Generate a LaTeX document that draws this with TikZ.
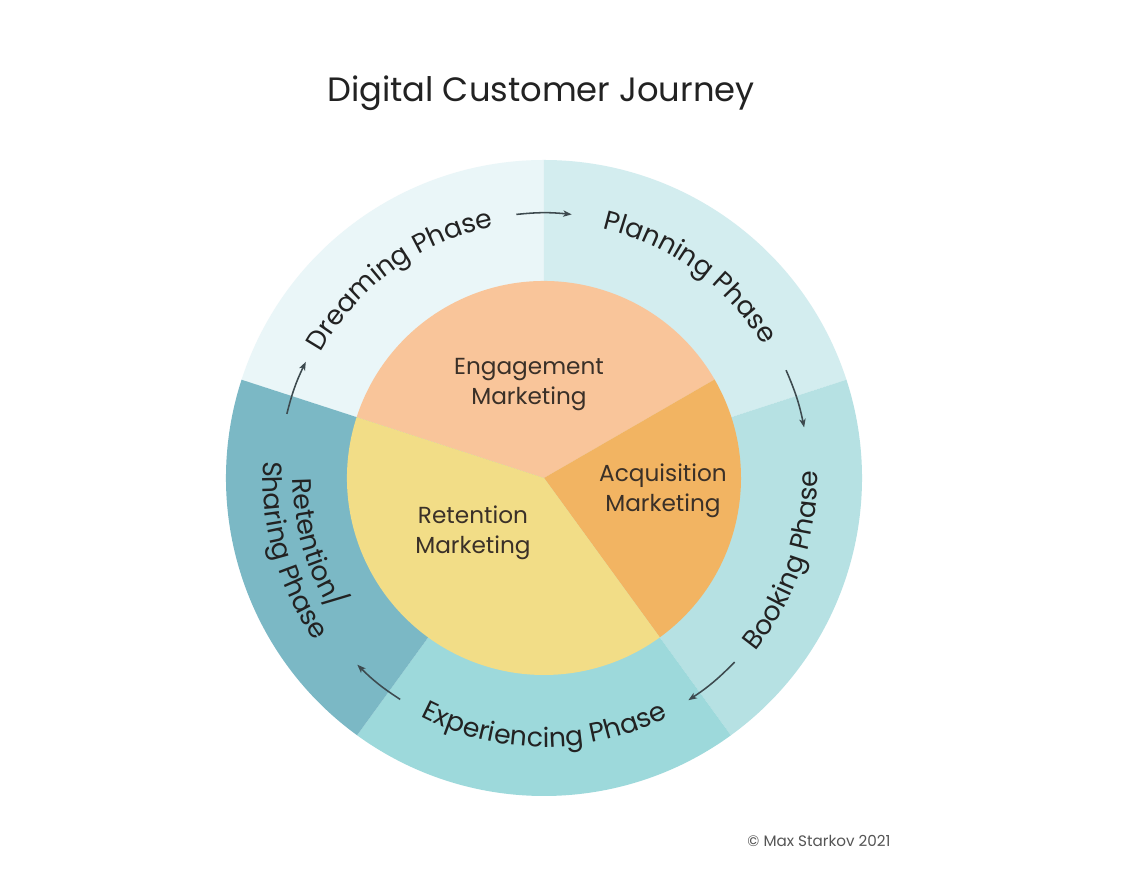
\documentclass[tikz,border=0pt]{standalone}
\usepackage{fontspec}
\setmainfont{Poppins}
\usepackage{tikz}
\usetikzlibrary{calc, positioning, decorations.text, arrows.meta}

\definecolor{dreamcol}{HTML}{EAF6F8}
\definecolor{plancol}{HTML}{D3EDEF}
\definecolor{bookcol}{HTML}{B6E1E3}
\definecolor{expcol}{HTML}{9DD9DB}
\definecolor{retcol}{HTML}{7BB8C5}
\definecolor{engcol}{HTML}{F9C59A}
\definecolor{acqcol}{HTML}{F2B462}
\definecolor{retmkcol}{HTML}{F2DD87}
\definecolor{textcol}{HTML}{222222}
\definecolor{lblcol}{HTML}{3A3028}
\definecolor{arrcol}{HTML}{3D4A4F}
\definecolor{copycol}{HTML}{555555}

\newcommand{\phasefont}{\fontsize{19}{23}\selectfont}

\begin{document}
\begin{tikzpicture}[x=0.025cm, y=0.025cm,
  phase/.style={decorate, decoration={text along path, text align=center, text color=textcol}},
  lbl/.style={align=center, text=lblcol, font=\fontsize{16.5}{21.3}\selectfont},
  arr/.style={-{Stealth[length=6pt, width=4.5pt, inset=1.5pt]}, line width=1.1pt, draw=arrcol}]
  \fill[white] (-544,-394) rectangle (594,478);
  \useasboundingbox (-544,-394) rectangle (594,478);

  % outer ring, five phases
  \fill[dreamcol] (0,0) -- (90:318) arc[start angle=90, end angle=162, radius=318] -- cycle;
  \fill[plancol] (0,0) -- (18:318) arc[start angle=18, end angle=90, radius=318] -- cycle;
  \fill[bookcol] (0,0) -- (-54:318) arc[start angle=-54, end angle=18, radius=318] -- cycle;
  \fill[expcol] (0,0) -- (-126:318) arc[start angle=-126, end angle=-54, radius=318] -- cycle;
  \fill[retcol] (0,0) -- (162:318) arc[start angle=162, end angle=234, radius=318] -- cycle;

  % inner pie
  \fill[engcol] (0,0) -- (30:197) arc[start angle=30, end angle=162, radius=197] -- cycle;
  \fill[acqcol] (0,0) -- (-54:197) arc[start angle=-54, end angle=30, radius=197] -- cycle;
  \fill[retmkcol] (0,0) -- (162:197) arc[start angle=162, end angle=306, radius=197] -- cycle;

  \node[lbl] (engage) at (-15,93) {Engagement\\Marketing};
  \node[lbl] (acquire) at (119,-13) {Acquisition\\Marketing};
  \node[lbl] (retain) at (-71,-55) {Retention\\Marketing};

  % phase names along the ring
  \path[phase, decoration={text={|\phasefont|Dreaming Phase}}] (176:256) arc[start angle=176, end angle=76, radius=256];
  \path[phase, decoration={text={|\phasefont|Planning Phase}}] (104:256) arc[start angle=104, end angle=4, radius=256];
  \path[phase, decoration={text={|\phasefont|Booking Phase}}] (-79:273) arc[start angle=-79, end angle=41, radius=273];
  \path[phase, decoration={text={|\phasefont|Experiencing Phase}}] (-150:269) arc[start angle=-150, end angle=-30, radius=269];
  \path[phase, decoration={text={|\phasefont|Retention/}}] (136:251) arc[start angle=136, end angle=256, radius=251];
  \path[phase, decoration={text={|\phasefont|Sharing Phase}}] (136:281) arc[start angle=136, end angle=256, radius=281];

  % arrows between phases
  \coordinate (dp1) at (96:265);
  \coordinate (dp2) at (84:265);
  \coordinate (pb1) at (24:265);
  \coordinate (pb2) at (11:265);
  \coordinate (be1) at (-44:265);
  \coordinate (be2) at (-57:265);
  \coordinate (er1) at (-123:264);
  \coordinate (er2) at (-135:264);
  \coordinate (rd1) at (166:265);
  \coordinate (rd2) at (154:265);
  \draw[arr] (dp1) to[bend left=6] (dp2);
  \draw[arr] (pb1) to[bend left=6] (pb2);
  \draw[arr] (be1) to[bend left=6] (be2);
  \draw[arr] (er1) to[bend left=6] (er2);
  \draw[arr] (rd1) to[bend left=6] (rd2);

  \node[font=\fontsize{24}{28}\selectfont, text=textcol, anchor=base] (title) at (-3,376) {Digital Customer Journey};
  \node[font=\fontsize{10.8}{13}\selectfont, text=copycol, anchor=base] (credit) at (275,-369) {\textcopyright{} Max Starkov 2021};
\end{tikzpicture}
\end{document}
